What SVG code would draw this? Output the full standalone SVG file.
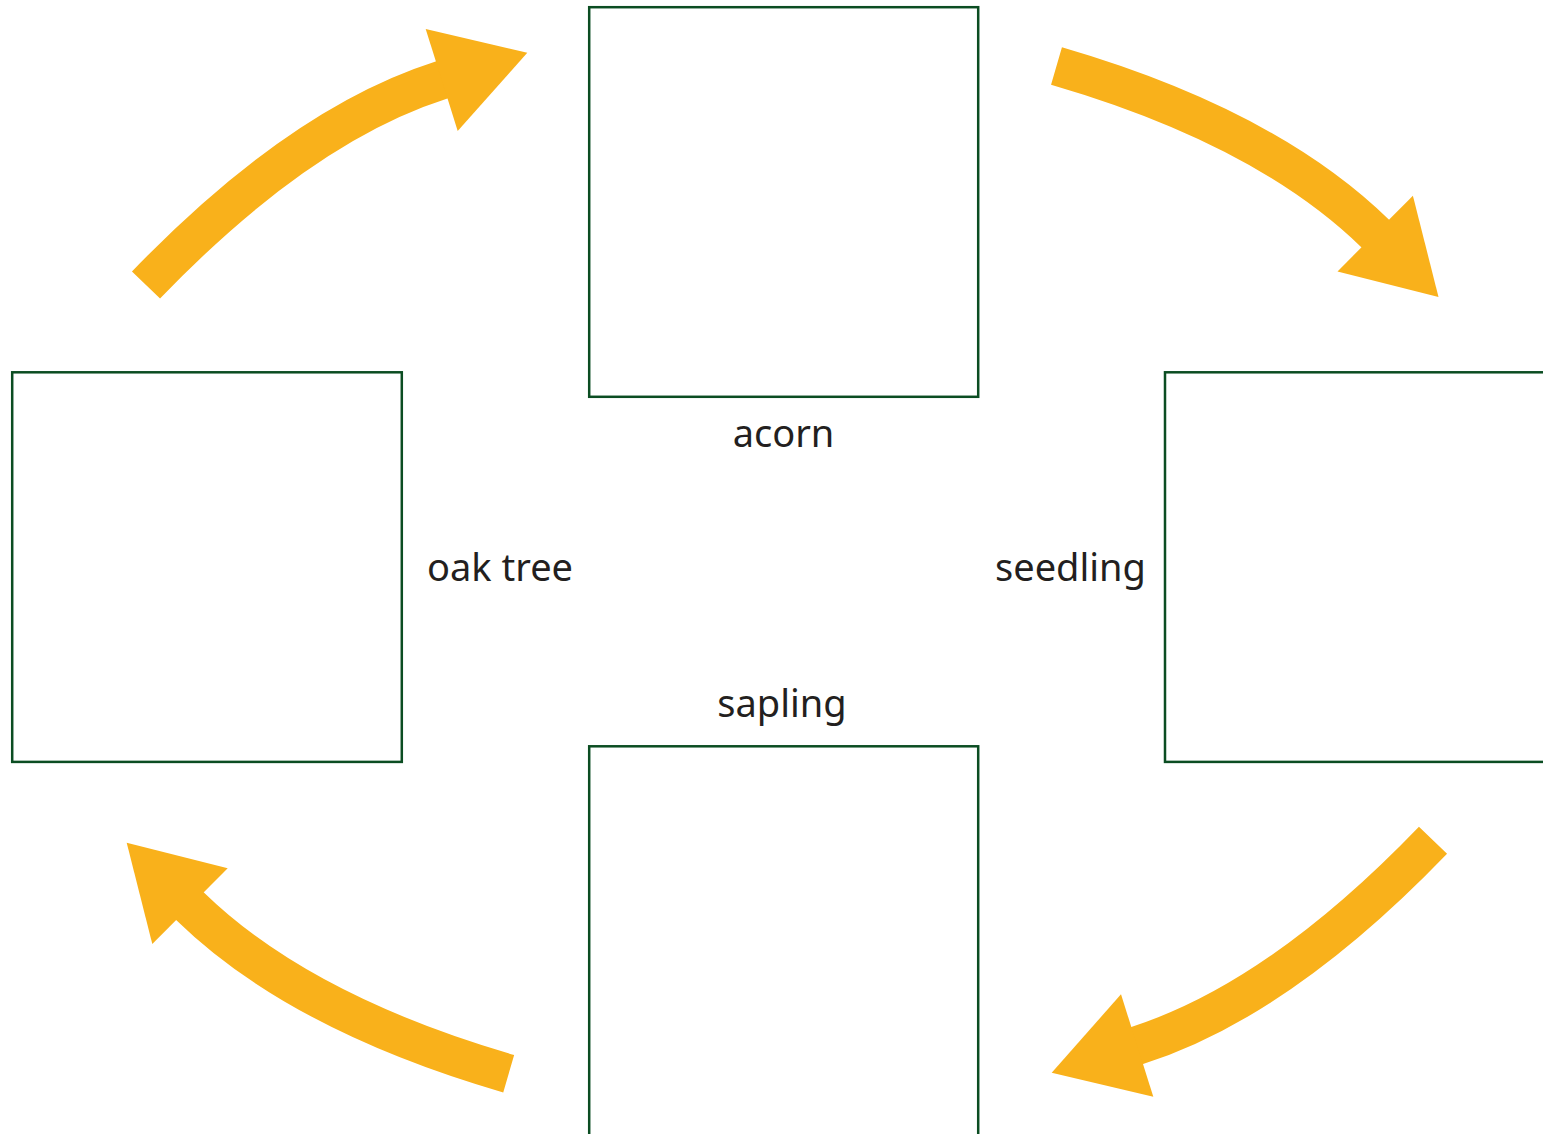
<svg xmlns="http://www.w3.org/2000/svg" width="1543" height="1134" viewBox="0 0 1543 1134">
  <style>
    .box { fill: #ffffff; stroke: #0b4d22; stroke-width: 2.5; }
    .label { font-family: "Noto Sans", "Open Sans", "Liberation Sans", sans-serif; font-size: 38px; fill: #231f20; }
    .shaft { fill: none; stroke: #f9b11b; stroke-width: 39; stroke-linecap: butt; }
    .head { fill: #f9b11b; stroke: none; }
  </style>
  <rect width="1543" height="1134" fill="#ffffff"/>

  <g id="connectors">
    <g id="arrow-oak-to-acorn">
      <path class="shaft" d="M146,285 Q300,125 441.5,80 L445.5,78.8"/>
      <polygon class="head" points="425.7,29 527.3,52.7 457.7,131"/>
    </g>
    <g id="arrow-acorn-to-seedling">
      <path class="shaft" d="M1056.5,66 Q1266,127 1375.2,233.5 L1378.2,236.5"/>
      <polygon class="head" points="1412.9,195.7 1438.5,297 1337.5,271.4"/>
    </g>
    <g id="arrow-seedling-to-sapling">
      <path class="shaft" d="M1433,840.3 Q1279,1000.3 1137.2,1045.5 L1133.2,1046.7"/>
      <polygon class="head" points="1121,994.3 1051.7,1072.7 1153.3,1096.7"/>
    </g>
    <g id="arrow-sapling-to-oak">
      <path class="shaft" d="M508.7,1073.7 Q299.2,1012.7 190,906.2 L187,903.2"/>
      <polygon class="head" points="152.3,944 126.7,842.7 227.7,868.3"/>
    </g>
  </g>

  <g id="node-acorn">
    <rect class="box" x="589.2" y="7.2" width="389" height="389.6"/>
    <text class="label" x="783.5" y="447" text-anchor="middle">acorn</text>
  </g>
  <g id="node-oak-tree">
    <rect class="box" x="12.2" y="372.3" width="389.6" height="389.6"/>
    <text class="label" x="427" y="580.5">oak tree</text>
  </g>
  <g id="node-seedling">
    <rect class="box" x="1165" y="372.3" width="400" height="389.6"/>
    <text class="label" x="1070.5" y="580.5" text-anchor="middle">seedling</text>
  </g>
  <g id="node-sapling">
    <rect class="box" x="589.2" y="746.3" width="389" height="400"/>
    <text class="label" x="782" y="716.7" text-anchor="middle">sapling</text>
  </g>
</svg>
